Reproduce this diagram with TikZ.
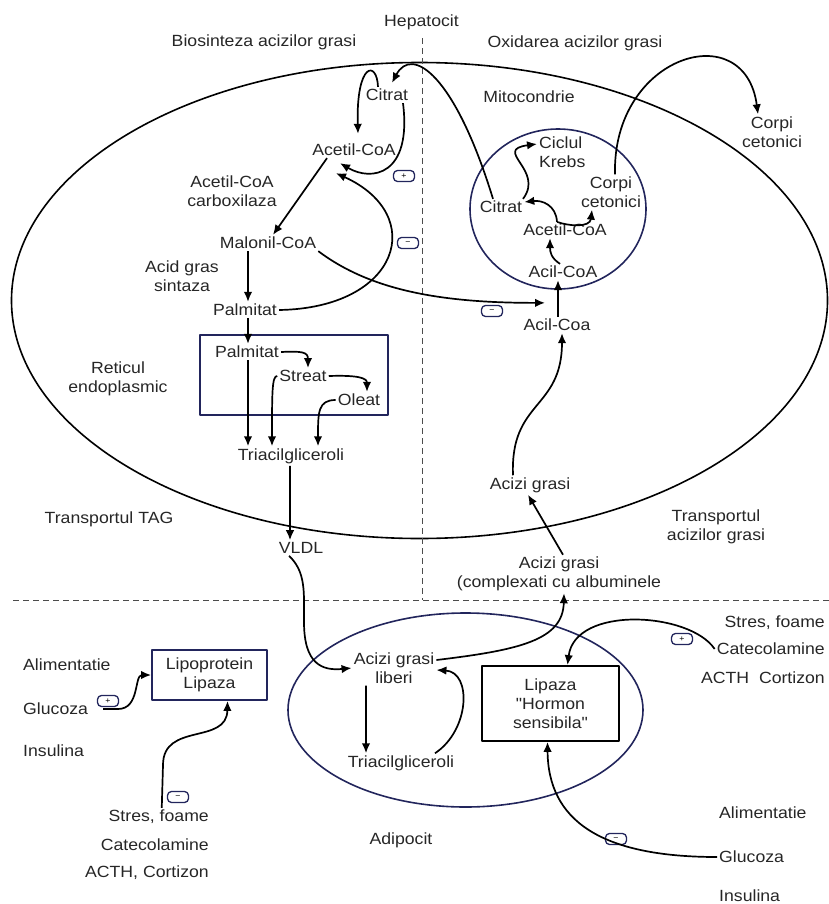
\documentclass[tikz,border=0pt]{standalone}
\usepackage{fontspec}
\setmainfont{Liberation Sans}[FakeStretch=1.09,Ligatures=TeXOff]
\usetikzlibrary{arrows.meta}
\definecolor{cellnavy}{RGB}{34,37,92}
\newcommand{\txtsize}{\fontsize{16.2bp}{19bp}\selectfont}

\begin{document}
\begin{tikzpicture}[>={Latex[length=10bp,width=8.5bp]},line join=bevel,x=1bp,y=-1bp,
  lbl/.style={draw=none,inner sep=2bp,align=center,font=\txtsize,text=black!85},
  box/.style={line width=1.8bp,inner sep=2bp,align=center,font=\txtsize,text=black!85},
  sgn/.style={draw=cellnavy,line width=1.3bp,rounded corners=4bp,minimum width=21bp,minimum height=11bp,inner sep=0pt,font=\fontsize{8bp}{8bp}\selectfont},
  flow/.style={black,line width=1.7bp,->},
  wall/.style={cellnavy,line width=1.6bp},
  cut/.style={black!70,line width=0.9bp,dash pattern=on 6bp off 4bp}]
%%
\useasboundingbox (0,0) rectangle (829,904);
\draw [black,line width=1.6bp] (419.5,300.5) ellipse [x radius=408bp,y radius=238bp];
\draw [wall] (558,209) ellipse [x radius=88bp,y radius=80bp];
\draw [wall] (200,335) rectangle (388,415);
\draw [wall] (465.5,710) ellipse [x radius=177.5bp,y radius=97bp];
\draw [cut] (422,38) -- (422,600);
\draw [cut] (13,600) -- (829,600);
%
\node (node_hep) at (421.5,22) [lbl] {Hepatocit};
  \node (node_bio) at (264,42) [lbl] {Biosinteza acizilor grasi};
  \node (node_oxi) at (575,43) [lbl] {Oxidarea acizilor grasi};
  \node (node_cit) at (387,95) [lbl] {Citrat};
  \node (node_acet) at (354,150) [lbl] {Acetil-CoA};
  \node (node_acc) at (232,191) [lbl] {Acetil-CoA\\carboxilaza};
  \node (node_mal) at (268,243) [lbl] {Malonil-CoA};
  \node (node_ags) at (182,276) [lbl] {Acid gras\\sintaza};
  \node (node_pal) at (245,310) [lbl] {Palmitat};
  \node (node_ret) at (118,379) [lbl] {Reticul\\endoplasmic};
  \node (node_pal2) at (247,352) [lbl] {Palmitat};
  \node (node_ste) at (303,376) [lbl] {Streat};
  \node (node_ole) at (359,400) [lbl] {Oleat};
  \node (node_tri) at (291,456) [lbl] {Triacilgliceroli};
  \node (node_mit) at (529,97) [lbl] {Mitocondrie};
  \node (node_corpo) at (772,132) [lbl] {Corpi\\cetonici};
  \node (node_krebs) at (537,152) [lbl,anchor=west,align=left] {Ciclul\\Krebs};
  \node (node_corpi) at (611,192) [lbl] {Corpi\\cetonici};
  \node (node_mcit) at (501,207) [lbl] {Citrat};
  \node (node_macet) at (565,230) [lbl] {Acetil-CoA};
  \node (node_macil) at (563,272) [lbl] {Acil-CoA};
  \node (node_acil) at (557,325) [lbl] {Acil-Coa};
  \node (node_acz) at (530,485) [lbl] {Acizi grasi};
  \node (node_tacz) at (716,527) [lbl] {Transportul\\acizilor grasi};
  \node (node_ttag) at (109,519) [lbl] {Transportul TAG};
  \node (node_vldl) at (301,548) [lbl] {VLDL};
  \node (node_cplx) at (559,574) [lbl] {Acizi grasi\\(complexati cu albuminele};
  \node (node_alim1) at (21,665) [lbl,anchor=west] {Alimentatie};
  \node (node_glu1) at (21,709) [lbl,anchor=west] {Glucoza};
  \node (node_ins1) at (21,751) [lbl,anchor=west] {Insulina};
  \node (node_lpl) at (209.5,675) [box,draw=cellnavy,minimum width=115bp,minimum height=50bp] {Lipoprotein\\Lipaza};
  \node (node_str1) at (211,817) [lbl,anchor=east] {Stres, foame};
  \node (node_cat1) at (211,845) [lbl,anchor=east] {Catecolamine};
  \node (node_acth1) at (211,873) [lbl,anchor=east] {ACTH, Cortizon};
  \node (node_agl) at (394,668) [lbl] {Acizi grasi\\liberi};
  \node (node_tri2) at (401,763) [lbl] {Triacilgliceroli};
  \node (node_hsl) at (550.5,703.5) [box,draw=black,minimum width=137bp,minimum height=75bp] {Lipaza\\"Hormon\\sensibila"};
  \node (node_str2) at (827,623) [lbl,anchor=east] {Stres, foame};
  \node (node_cat2) at (827,649) [lbl,anchor=east] {Catecolamine};
  \node (node_acth2) at (827,678) [lbl,anchor=east] {ACTH\ \ Cortizon};
  \node (node_alim2) at (717,813) [lbl,anchor=west] {Alimentatie};
  \node (node_glu2) at (717,857) [lbl,anchor=west] {Glucoza};
  \node (node_ins2) at (717,896) [lbl,anchor=west] {Insulina};
  \node (node_adi) at (401,840) [lbl] {Adipocit};
  \node (node_s1) at (404,176) [sgn] {+};
  \node (node_s2) at (408,243) [sgn] {−};
  \node (node_s3) at (492,311) [sgn] {−};
  \node (node_s4) at (108,701) [sgn] {+};
  \node (node_s5) at (178,797) [sgn] {−};
  \node (node_s6) at (682,639) [sgn] {+};
  \node (node_s7) at (616,839) [sgn] {−};
%
  \draw [flow] ([xshift=-9bp]node_cit.north) .. controls (377,60) and (356,62) .. ([xshift=4bp,yshift=8bp]node_acet.north);
  \draw [flow] ([xshift=-8bp]node_mcit.north) .. controls (455,75) and (412,45) .. ([xshift=5bp,yshift=4bp]node_cit.north);
  \draw [flow] ([xshift=16bp]node_cit.south) .. controls (412,175) and (372,182) .. ([xshift=-14bp,yshift=-5bp]node_acet.south);
  \draw [flow] ([xshift=-27bp]node_acet.south) -- ([xshift=5bp]node_mal.north);
  \draw [flow] ([xshift=-20bp]node_mal.south) -- ([xshift=3bp]node_pal.north);
  \draw [flow] (node_pal.east) .. controls (400,308) and (428,215) .. ([xshift=-18bp,yshift=-15bp]node_acet.south);
  \draw [flow] (node_mal.south east) .. controls (370,290) and (440,303) .. ([xshift=-12bp,yshift=14bp]node_acil.north);
  \draw [flow] ([xshift=1bp]node_acil.north) -- ([xshift=-5bp]node_macil.south);
  \draw [flow] ([xshift=-3bp]node_macil.north) .. controls (551,258) and (550,252) .. ([xshift=-15bp]node_macet.south);
  \draw [flow] ([xshift=-8bp]node_macet.north) .. controls (556,205) and (542,200) .. ([yshift=5bp]node_mcit.east);
  \draw [flow] ([xshift=-8bp]node_macet.north) .. controls (568,226) and (590,228) .. ([xshift=-19bp]node_corpi.south);
  \draw [flow] ([xshift=22bp]node_mcit.north) .. controls (545,170) and (492,150) .. ([yshift=8bp]node_krebs.west);
  \draw [flow] ([xshift=4bp]node_corpi.north) .. controls (612,55) and (745,15) .. ([xshift=-14bp]node_corpo.north);
  \draw [flow] ([xshift=3bp]node_pal.south) -- ([xshift=1bp]node_pal2.north);
  \draw [flow] (node_pal2.east) .. controls (302,351) and (308,352) .. ([xshift=5bp]node_ste.north);
  \draw [flow] (node_ste.east) .. controls (358,375) and (367,378) .. ([xshift=8bp]node_ole.north);
  \draw [flow] ([xshift=1bp]node_pal2.south) -- ([xshift=-43bp]node_tri.north);
  \draw [flow] (node_ste.west) .. controls (272,376) and (272,392) .. ([xshift=-19bp]node_tri.north);
  \draw [flow] (node_ole.west) .. controls (318,400) and (318,412) .. ([xshift=27bp]node_tri.north);
  \draw [flow] ([xshift=-1bp]node_tri.south) -- ([xshift=-11bp]node_vldl.north);
  \draw [flow] ([xshift=-12bp]node_vldl.south) .. controls (306,572) and (304,592) .. (304,622) .. controls (304,664) and (322,671) .. (node_agl.west);
  \draw [flow] ([xshift=-17bp]node_acz.north) .. controls (510,400) and (562,410) .. ([xshift=5bp]node_acil.south);
  \draw [flow] ([xshift=4bp]node_cplx.north) -- ([xshift=-2bp]node_acz.south);
  \draw [flow] ([yshift=8bp]node_agl.east) .. controls (520,650) and (563,640) .. ([xshift=5bp]node_cplx.south);
  \draw [flow] ([xshift=-28bp]node_agl.south) -- ([xshift=-35bp]node_tri2.north);
  \draw [flow] ([xshift=34bp]node_tri2.north) .. controls (470,730) and (472,672) .. ([yshift=-2bp]node_agl.east);
  \draw [flow] ([xshift=13bp]node_glu1.east) -- (118,709) .. controls (140,709) and (134,675) .. (node_lpl.west);
  \draw [flow] ([xshift=3bp]node_str1.north) -- (163,765) .. controls (163,722) and (227,745) .. ([xshift=18bp]node_lpl.south);
  \draw [flow] (node_cat2.west) .. controls (690,612) and (575,605) .. ([xshift=17bp]node_hsl.north);
  \draw [flow] (node_glu2.west) .. controls (600,857) and (548,820) .. ([xshift=-3bp]node_hsl.south);
%
\end{tikzpicture}
\end{document}
